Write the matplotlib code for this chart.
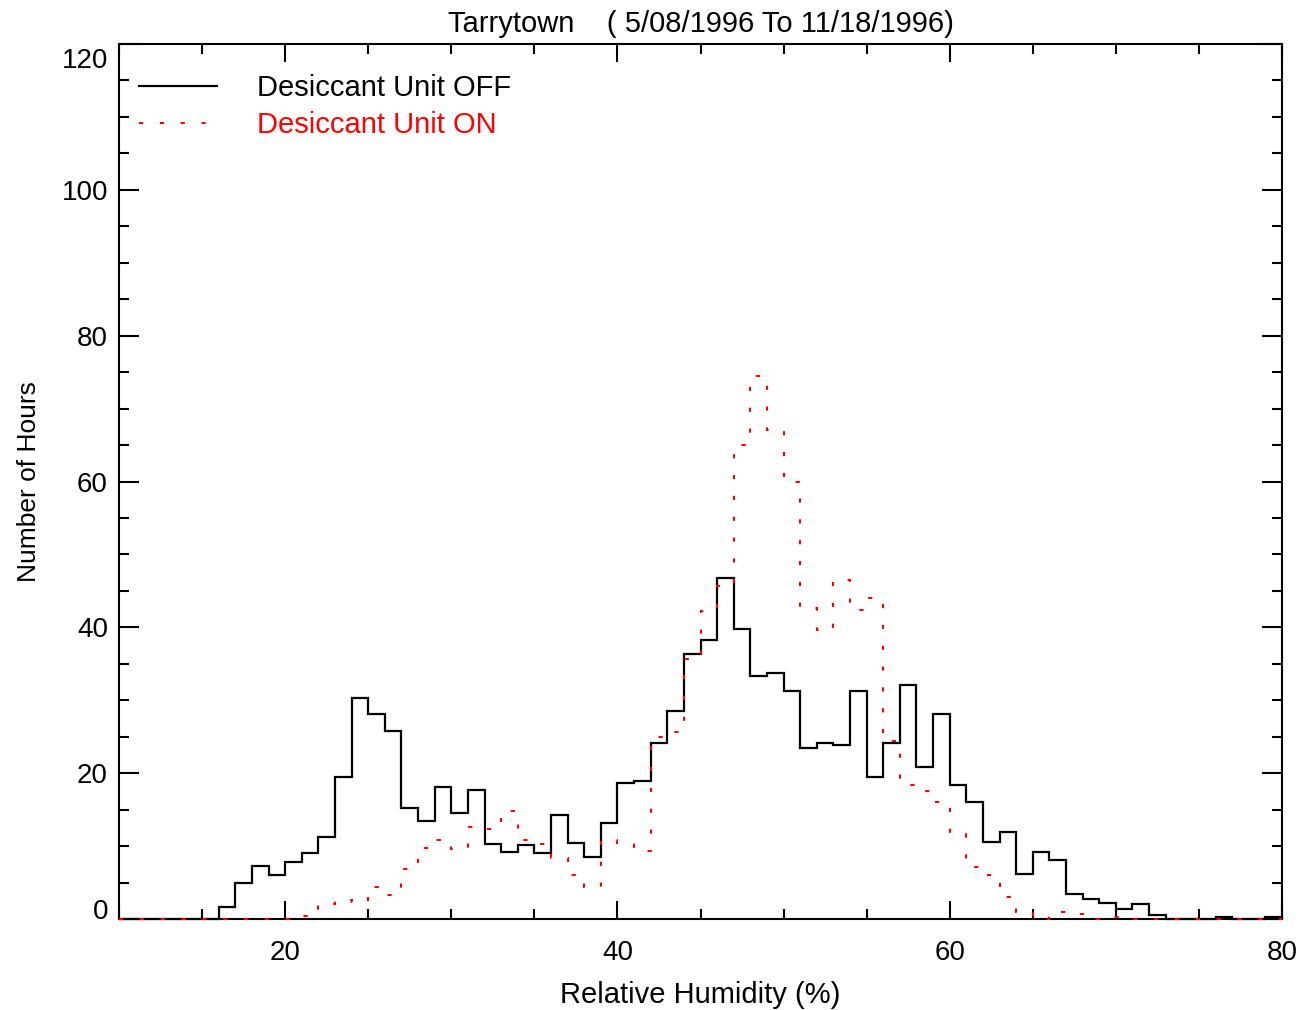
import matplotlib
matplotlib.use("Agg")
import matplotlib.pyplot as plt
import matplotlib.transforms as mtransforms
import numpy as np

plt.rcParams['font.family'] = ['Liberation Sans', 'DejaVu Sans']

# bins of 1 % RH, from 10 to 80
edges = np.arange(10, 81, 1)

# hours per bin, unit OFF (black)
horas_off = [0, 0, 0, 0, 0, 0,
             1.7, 4.9, 7.3, 6.1, 7.85, 9.05, 11.3, 19.5, 30.3, 28.1,
             25.8, 15.2, 13.5, 18.1, 14.6, 17.7, 10.3, 9.2, 10.1, 9.0,
             14.3, 10.4, 8.45, 13.1, 18.6, 18.9, 24.2, 28.5, 36.3, 38.2,
             46.7, 39.8, 33.3, 33.8, 31.3, 23.5, 24.2, 23.9, 31.3, 19.5,
             24.2, 32.1, 20.8, 28.1, 18.4, 16.0, 10.6, 12.0, 6.15, 9.2,
             8.1, 3.4, 2.8, 2.2, 1.35, 2.1, 0.5, 0, 0, 0,
             0.3, 0, 0, 0.3]

# hours per bin, unit ON (red)
horas_on = [0, 0, 0, 0, 0, 0, 0, 0, 0, 0, 0,
            0.4, 2.0, 2.6, 2.3, 4.4, 3.3, 6.8, 9.8, 10.9, 9.6,
            12.6, 12.4, 14.8, 10.8, 10.3, 8.3, 6.1, 4.4, 10.9, 10.4,
            9.3, 25.0, 25.6, 35.7, 42.2, 45.7, 65.0, 74.5, 67.0, 60.0,
            42.7, 39.6, 46.5, 42.4, 44.0, 24.4, 18.4, 17.5, 16.0, 11.6,
            7.1, 6.1, 3.0, 1.0, 0, 1.0, 0.7, 0, 0.3, 0.3,
            0, 0, 0, 0, 0, 0, 0, 0, 0]

fig = plt.figure(figsize=(13.08, 10.10), dpi=100)
ax = fig.add_axes([119/1308, 1 - 919/1010, (1282-119)/1308, (919-44)/1010])

ax.stairs(horas_off, edges, color="black", linewidth=1.6,
          label="Desiccant Unit OFF", zorder=3, clip_on=False)
ax.stairs(horas_on, edges, color="red", linewidth=1.5,
          linestyle=(0, (2, 8)), label="Desiccant Unit ON", zorder=4, clip_on=False)

ax.set_xlim(10, 80)
ax.set_ylim(0, 120)
ax.set_xticks([20, 40, 60, 80])
ax.set_xticks(np.arange(10, 81, 5), minor=True)
ax.set_yticks(np.arange(0, 121, 20))
ax.set_yticks(np.arange(0, 121, 5), minor=True)

for s in ax.spines.values():
    s.set_linewidth(1.5)

ax.tick_params(axis="both", which="both", direction="in", top=True, right=True,
               width=1.5, labelsize=20)
ax.tick_params(axis="x", which="major", length=13, pad=15)
ax.tick_params(axis="x", which="minor", length=7)
ax.tick_params(axis="y", which="major", length=14.5, pad=8)
ax.tick_params(axis="y", which="minor", length=7.5)

# IDL-like placement of the end labels
yt = ax.yaxis.get_major_ticks()
yt[0].label1.set_va("baseline")
lab = yt[-1].label1
lab.set_transform(lab.get_transform() +
                  mtransforms.ScaledTranslation(0, -10/72, fig.dpi_scale_trans))

ax.set_xlabel("Relative Humidity (%)", fontsize=21, labelpad=11)
ax.set_ylabel("Number of Hours", fontsize=19, labelpad=15)
ax.set_title("Tarrytown    ( 5/08/1996 To 11/18/1996)", fontsize=21, pad=9)

leg = ax.legend(loc="upper left", bbox_to_anchor=(0.0, 1.0 - 10/875),
                frameon=False, fontsize=21, handlelength=2.67,
                handletextpad=1.37, labelspacing=0.32, borderpad=0.685,
                borderaxespad=0, labelcolor="linecolor")

fig.savefig("out.png", dpi=100)
